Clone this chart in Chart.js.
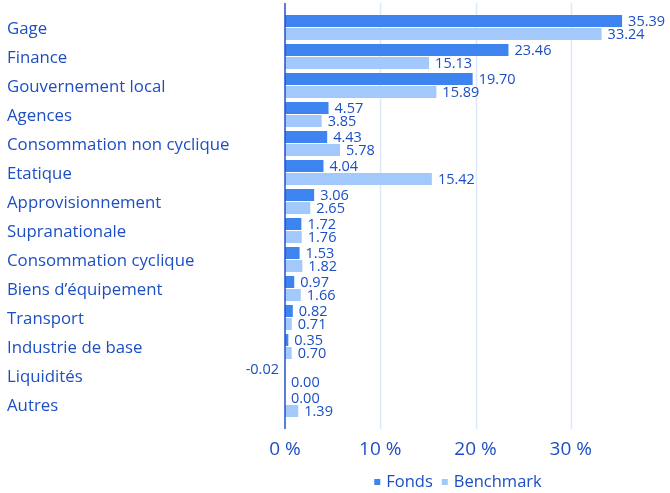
<!DOCTYPE html>
<html>
<head>
<meta charset="utf-8">
<script src="https://cdn.jsdelivr.net/npm/chart.js@4"></script>
<style>
  html, body { margin: 0; padding: 0; background: #fff; }
  #wrap { width: 670px; height: 493px; }
</style>
</head>
<body>
<div id="wrap"><canvas id="chart"></canvas></div>
<script>
// Chart data
const categories = ['Gage', 'Finance', 'Gouvernement local', 'Agences', 'Consommation non cyclique',
    'Etatique', 'Approvisionnement', 'Supranationale', 'Consommation cyclique', 'Biens d\u2019équipement',
    'Transport', 'Industrie de base', 'Liquidités', 'Autres'];
const fonds = [35.39, 23.46, 19.70, 4.57, 4.43, 4.04, 3.06, 1.72, 1.53, 0.97, 0.82, 0.35, -0.02, 0.00];
const benchmark = [33.24, 15.13, 15.89, 3.85, 5.78, 15.42, 2.65, 1.76, 1.82, 1.66, 0.71, 0.70, 0.00, 1.39];
const xTicks = [0, 10, 20, 30];

const textColor = '#1d4fc3';
const fontFamily = '"Open Sans", sans-serif';

// Grid lines and axis line, drawn a bit taller than the chart area
const gridPlugin = {
    id: 'grid',
    beforeDatasetsDraw(chart) {
        const { ctx, chartArea, scales } = chart;
        ctx.save();
        ctx.strokeStyle = '#dce8fb';
        ctx.lineWidth = 1.5;
        xTicks.slice(1).forEach(v => {
            const x = Math.round(scales.x.getPixelForValue(v)) + 0.5;
            ctx.beginPath();
            ctx.moveTo(x, chartArea.top - 10);
            ctx.lineTo(x, chartArea.bottom + 10);
            ctx.stroke();
        });
        ctx.restore();
    },
    afterDatasetsDraw(chart) {
        const { ctx, chartArea, scales } = chart;
        const x = scales.x.getPixelForValue(0);
        ctx.save();
        ctx.strokeStyle = '#1f52cc';
        ctx.lineWidth = 1.5;
        ctx.beginPath();
        ctx.moveTo(x, chartArea.top - 10);
        ctx.lineTo(x, chartArea.bottom + 10);
        ctx.stroke();
        ctx.restore();
    }
};

// Value labels at the end of each bar
const labelPlugin = {
    id: 'barLabels',
    afterDatasetsDraw(chart) {
        const { ctx } = chart;
        ctx.save();
        ctx.font = '14.5px ' + fontFamily;
        ctx.fillStyle = textColor;
        ctx.textBaseline = 'middle';
        chart.data.datasets.forEach((ds, i) => {
            chart.getDatasetMeta(i).data.forEach((bar, j) => {
                const v = ds.data[j];
                if (v < 0) {
                    ctx.textAlign = 'right';
                    ctx.fillText(v.toFixed(2), bar.base - 6, bar.y + 1);
                } else {
                    ctx.textAlign = 'left';
                    ctx.fillText(v.toFixed(2), bar.x + 6, bar.y + 1);
                }
            });
        });
        ctx.restore();
    }
};

// Small legend under the axis, centred a bit right of the canvas middle
const legendPlugin = {
    id: 'smallLegend',
    afterDraw(chart) {
        const { ctx } = chart;
        const box = 6, gapText = 6, gapItem = 9;
        ctx.save();
        ctx.font = '16.5px ' + fontFamily;
        ctx.textBaseline = 'middle';
        ctx.textAlign = 'left';
        const items = chart.data.datasets.map(ds => ({
            label: ds.label, color: ds.backgroundColor, w: ctx.measureText(ds.label).width
        }));
        const total = items.reduce((s, it) => s + box + gapText + it.w, 0) + gapItem * (items.length - 1);
        let x = 458 - total / 2;
        const y = 482;
        items.forEach(it => {
            ctx.fillStyle = it.color;
            ctx.fillRect(x, y - box / 2, box, box);
            x += box + gapText;
            ctx.fillStyle = textColor;
            ctx.fillText(it.label, x, y);
            x += it.w + gapItem;
        });
        ctx.restore();
    }
};

const ctx = document.getElementById('chart').getContext('2d');
new Chart(ctx, {
    type: 'bar',
    data: {
        labels: categories,
        datasets: [{
            label: 'Fonds',
            data: fonds,
            backgroundColor: '#3d84f0',
            categoryPercentage: 0.9,
            barPercentage: 0.92
        }, {
            label: 'Benchmark',
            data: benchmark,
            backgroundColor: '#a3c9fc',
            categoryPercentage: 0.9,
            barPercentage: 0.92
        }]
    },
    options: {
        indexAxis: 'y',
        responsive: true,
        maintainAspectRatio: false,
        animation: false,
        layout: { padding: { left: 7, right: 4, top: 13, bottom: 0 } },
        plugins: {
            legend: { display: false },
            tooltip: { enabled: false }
        },
        scales: {
            x: {
                min: 0,
                max: 40,
                grid: { display: false, drawTicks: false },
                border: { display: false },
                afterBuildTicks: scale => { scale.ticks = xTicks.map(v => ({ value: v })); },
                afterFit: scale => { scale.height = 74; },
                ticks: {
                    padding: 19,
                    color: textColor,
                    font: { family: fontFamily, size: 19 },
                    callback: v => v + ' %'
                }
            },
            y: {
                grid: { display: false, drawTicks: false },
                border: { display: false },
                afterFit: scale => { scale.width = 278; },
                ticks: {
                    crossAlign: 'far',
                    labelOffset: 2,
                    color: textColor,
                    font: { family: fontFamily, size: 16.8 }
                }
            }
        }
    },
    plugins: [gridPlugin, labelPlugin, legendPlugin]
});
</script>
</body>
</html>
